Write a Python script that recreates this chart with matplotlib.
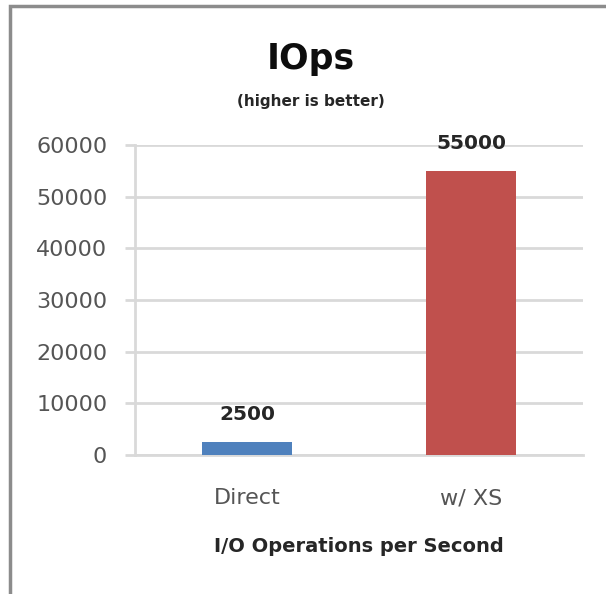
import matplotlib
matplotlib.use("Agg")
import matplotlib.pyplot as plt
from matplotlib.patches import Rectangle

# chart data
categories = ["Direct", "w/ XS"]
iops = [2500, 55000]
bar_colors = ["#4F81BD", "#C0504D"]
y_ticks = [0, 10000, 20000, 30000, 40000, 50000, 60000]

plt.rcParams["font.family"] = ["DejaVu Sans"]

fig = plt.figure(figsize=(6.06, 5.94), dpi=100)
ax = fig.add_axes([135 / 606, 1 - 455 / 594, 448 / 606, 310 / 594])

grid_color = "#D9D9D9"
ax.bar(range(len(categories)), iops, width=0.4, color=bar_colors, zorder=3)
ax.set_xlim(-0.5, 1.5)
ax.set_ylim(0, 60000)
ax.set_yticks(y_ticks)
ax.set_yticklabels([str(t) for t in y_ticks])
ax.set_xticks(range(len(categories)))
ax.set_xticklabels(categories)
ax.yaxis.grid(True, color=grid_color, linewidth=2, zorder=0)

for side in ["top", "right"]:
    ax.spines[side].set_visible(False)
for side in ["left", "bottom"]:
    ax.spines[side].set_color(grid_color)
    ax.spines[side].set_linewidth(2)

ax.tick_params(axis="y", length=7, width=2, color=grid_color, labelsize=16,
               labelcolor="#555555", pad=13)
ax.tick_params(axis="x", length=0, labelsize=16, labelcolor="#555555", pad=24)

# value labels above the bars
for i, v in enumerate(iops):
    ax.annotate(str(v), (i, v), xytext=(0, 19.5), textcoords="offset points",
                ha="center", va="center", fontsize=14.5, fontweight="bold",
                color="#262626", zorder=4)

ax.set_xlabel("I/O Operations per Second", fontsize=14, fontweight="bold",
              color="#262626")
ax.xaxis.set_label_coords(0.5, -(537 - 455) / 310)

fig.text(311 / 606, 1 - 69 / 594, "IOps", ha="center", va="baseline",
         fontsize=25, fontweight="bold", color="#0d0d0d")
fig.text(311 / 606, 1 - 106 / 594, "(higher is better)", ha="center",
         va="baseline", fontsize=11, fontweight="bold", color="#262626")

# outer frame of the pasted chart
fig.patches.append(Rectangle((10 / 606, -0.2), 1.0, 1.2 - 6 / 594,
                             transform=fig.transFigure, fill=False,
                             edgecolor="#8C8C8C", linewidth=2.5))

fig.savefig("out.png", dpi=100)
